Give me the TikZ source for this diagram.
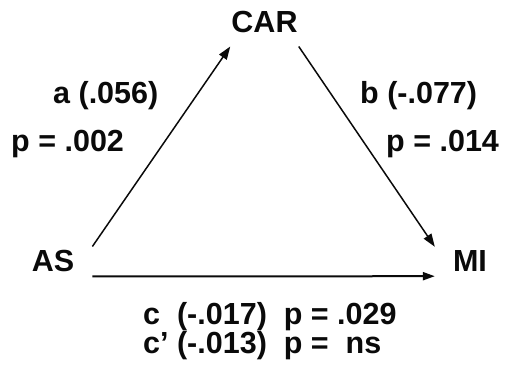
\documentclass[tikz,border=0pt]{standalone}
\usepackage{fontspec}
\setmainfont{Liberation Sans}
\usepackage{tikz}
\usetikzlibrary{arrows.meta, positioning}
\definecolor{inkblack}{RGB}{10,10,10}
\tikzset{
  varnode/.style={anchor=base, inner xsep=18pt, inner ysep=4pt,
    font=\fontsize{30.5}{36}\selectfont\bfseries, text=inkblack},
  coefnode/.style={anchor=base west, inner sep=0pt,
    font=\fontsize{30.5}{36}\selectfont\bfseries, text=inkblack},
  arrow/.style={-{Triangle[length=13pt, width=9pt]}, line width=1.5pt, color=inkblack},
  fatarrow/.style={-{Triangle[length=12pt, width=8pt]}, line width=2pt, color=inkblack},
}
\begin{document}
\begin{tikzpicture}[x=1pt, y=1pt]
  \useasboundingbox (0,0) rectangle (512,377);

  % variables
  \node[varnode, inner xsep=1pt, inner ysep=13pt] (car) at (264.5,344) {CAR};
  \node[varnode] (as) at (53,105) {AS};
  \node[varnode] (mi) at (470,105) {MI};

  % paths
  \draw[arrow] (as.north east) -- (car.south west);
  \draw[arrow] (car.south east) -- (mi.north west);
  \draw[fatarrow] (as.south east) -- (mi.south west);

  % coefficients
  \node[coefnode] (acoef) at (53,273) {a (.056)};
  \node[coefnode] (ap) at (11,225) {p = .002};
  \node[coefnode] (bcoef) at (360,273) {b (-.077)};
  \node[coefnode] (bp) at (386,225) {p = .014};
  \node[coefnode] (ccoef) at (143,52) {c\ \ (-.017)\ \ p = .029};
  \node[coefnode] (cpcoef) at (143,23) {c’ (-.013)\ \ p = \ ns};
\end{tikzpicture}
\end{document}
